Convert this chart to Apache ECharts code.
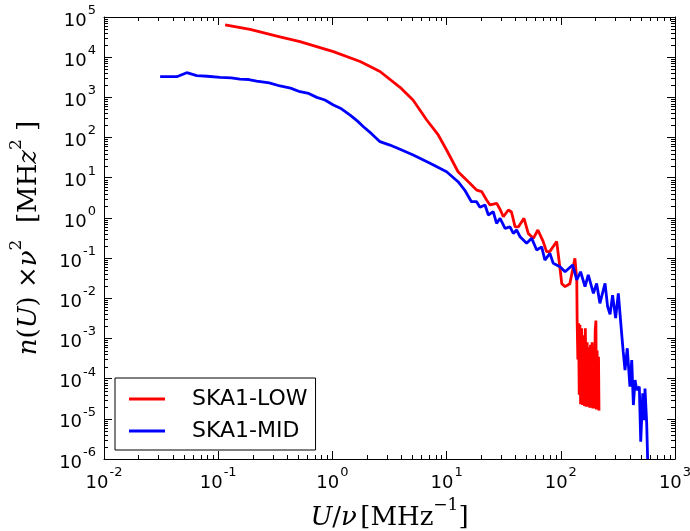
<!DOCTYPE html>
<html><head><meta charset="utf-8">
<script src="https://cdn.jsdelivr.net/npm/echarts@6/dist/echarts.min.js"></script>
<style>html,body{margin:0;padding:0;background:#fff}#c{width:690px;height:531px}</style>
</head><body><div id="c"></div>
<script>
// SKA1-LOW
const lowU = [0.115,0.19,0.347,0.52,1.02,1.75,2.61,3.91,5.08,6.7,8.45,10.0,12.6,15.5,18.4,20.3,22.4,24,27.5,29.5,31.4,34.7,37,39.8,42.6,47.6,51.9,57.5,63,70,75,80,92,98,102,109,120,133,138,
  139,141,143,145,147,149,152,155,158,161,164,167,170,173,176,179,182,185,188,191,194,197,200,203,205,208,211,214,216];
const lowN = [6.4e4,4.9e4,3.2e4,2.43e4,1.37e4,7.8e3,4.4e3,1.78e3,860,273,116,49,14.1,7.9,4.9,4.5,2.8,2.1,2.3,1.6,1.07,1.57,1.4,0.6,0.6,0.98,0.41,0.31,0.5,0.26,0.145,0.145,0.26,0.061,0.023,0.0195,0.023,0.099,0.0285,
  2.9e-3,3e-4,2.4e-3,4e-5,2.2e-3,2.3e-5,1.8e-3,2.2e-5,1.2e-3,2.1e-5,1.8e-3,2e-5,8e-4,2e-5,6e-4,1.9e-5,7e-4,1.9e-5,8e-4,1.8e-5,6e-4,1.8e-5,1.5e-3,2.8e-3,1.7e-5,5e-4,1.7e-5,3.5e-4,1.6e-5];
// SKA1-MID
const midU = [0.031,0.0434,0.053,0.0649,0.08,0.104,0.13,0.155,0.185,0.217,0.28,0.348,0.43,0.52,0.62,0.73,0.86,1.02,1.2,1.43,1.65,1.87,2.2,2.61,3.19,3.91,5.1,7.16,10,12.6,14.4,16.5,18.3,19.6,21.7,23.2,25.6,27.4,29.4,32.5,35.9,38.4,41,44,50.2,55.6,61.5,68,72.5,80.3,85.9,98.4,109,127,138,149,163,174,193,206,220,244,257,270,284,302,319,341,352,365,382,403,418,432,447,462,487,501,522,539,546,565,576];
const midN = [3270,3270,4110,3460,3350,3160,3050,2860,2780,2550,2300,1920,1700,1380,1250,1000,860,646,520,363,260,186,125,79,65,51,36.7,22.9,14.1,7.95,4.94,2.53,2.53,1.84,2.1,1.18,1.43,0.73,0.98,0.55,0.6,0.41,0.5,0.34,0.233,0.31,0.159,0.19,0.0895,0.131,0.074,0.061,0.0457,0.0675,0.0285,0.0457,0.0195,0.038,0.0133,0.0234,7.5e-3,0.0234,6.2e-3,4e-3,0.012,3.2e-3,0.0133,1.34e-3,4.7e-4,1.64e-4,5.7e-4,6.3e-5,2.9e-4,2.2e-5,9.2e-5,5.2e-5,6.3e-5,2.7e-6,4.3e-5,9.3e-6,5.7e-5,7.8e-6,1e-6];
const seriesNames = ['SKA1-LOW','SKA1-MID'];
const xRange = [1e-2, 1e3];
const yRange = [1e-6, 1e5];
const minorMultipliers = [2,3,4,5,6,7,8,9];

const zip = (a,b) => a.map((v,i)=>[v,b[i]]);
const supFmt = v => { const e = Math.round(Math.log10(v)); return '{b|10}{s|' + e + '}'; };
const rich = {
  b:{fontFamily:'DejaVu Sans',fontSize:18,color:'#000',lineHeight:26,verticalAlign:'bottom'},
  s:{fontFamily:'DejaVu Sans',fontSize:13,color:'#000',lineHeight:26,verticalAlign:'top',padding:[0,0,0,1]}
};
const tick = {show:true,inside:true,length:8,interval:0,lineStyle:{color:'#000',width:1}};
const line = {show:true,onZero:false,lineStyle:{color:'#000',width:1}};
const serif = 'DejaVu Serif';
const nameRich = {
  i:{fontFamily:serif,fontStyle:'italic',fontSize:26,color:'#000',lineHeight:34,verticalAlign:'bottom'},
  r:{fontFamily:serif,fontSize:26,color:'#000',lineHeight:34,verticalAlign:'bottom'},
  p:{fontFamily:serif,fontSize:17,color:'#000',lineHeight:34,verticalAlign:'top'}
};
function logAxis(extra, range){
  return Object.assign({type:'log',logBase:10,min:range[0],max:range[1],interval:1,
    axisLine:line,axisTick:tick,minorTick:{show:false},splitLine:{show:false}}, extra);
}

const chart = echarts.init(document.getElementById('c'), null, {renderer:'canvas'});
chart.setOption({
  animation:false,
  backgroundColor:'#fff',
  grid:{left:104,right:15,top:17,bottom:72,containLabel:false,outerBoundsMode:'none'},
  legend:{
    data:seriesNames, orient:'vertical', left:115, top:378,
    padding:[10,8,8,14], itemGap:10, itemWidth:36, itemHeight:3, icon:'rect',
    borderColor:'#000', borderWidth:1, borderRadius:0, backgroundColor:'#fff',
    textStyle:{fontFamily:'DejaVu Sans',fontSize:22,color:'#000',padding:[0,0,0,22]}
  },
  xAxis:[
    logAxis({position:'bottom',axisLabel:{formatter:supFmt,rich:rich,margin:7},
     name:'{i|U}{r|/}{i|ν} {r|[MHz}{p|−1}{r|]}',nameLocation:'middle',nameGap:36,
     nameTextStyle:{rich:nameRich}}, xRange),
    logAxis({position:'top',axisLabel:{show:false}}, xRange)
  ],
  yAxis:[
    logAxis({position:'left',axisLabel:{formatter:supFmt,rich:rich,margin:8},
     name:'{i|n}{r|(}{i|U}{r|) ×}{i|ν}{p|2}{r|  [MH}{i|z}{p|2}{r| ]}',nameLocation:'middle',nameGap:62,nameRotate:90,
     nameTextStyle:{rich:nameRich}}, yRange),
    logAxis({position:'right',axisLabel:{show:false}}, yRange)
  ],
  series:[
    {name:seriesNames[0],type:'line',data:zip(lowU,lowN),showSymbol:false,symbol:'none',clip:true,
     lineStyle:{color:'#ff0000',width:2.8},itemStyle:{color:'#ff0000'},z:2},
    {name:seriesNames[1],type:'line',data:zip(midU,midN),showSymbol:false,symbol:'none',clip:true,
     lineStyle:{color:'#0000ff',width:2.8},itemStyle:{color:'#0000ff'},z:3}
  ]
});

// minor ticks (2..9 within each decade) on all four sides, placed via the axes' own scales
(function(){
  const els = [];
  const x0 = chart.convertToPixel({xAxisIndex:0}, xRange[0]);
  const x1 = chart.convertToPixel({xAxisIndex:0}, xRange[1]);
  const yb = chart.convertToPixel({yAxisIndex:0}, yRange[0]);
  const yt = chart.convertToPixel({yAxisIndex:0}, yRange[1]);
  const L = 4;
  const seg = (a,b,c,d) => els.push({type:'line',shape:{x1:a,y1:b,x2:c,y2:d},
    style:{stroke:'#000',lineWidth:1},silent:true,z:100});
  for (let e = -2; e < 3; e++) {
    minorMultipliers.forEach(k => {
      const px = Math.round(chart.convertToPixel({xAxisIndex:0}, k*Math.pow(10,e))) + 0.5;
      seg(px, yb, px, yb-L);
      seg(px, yt, px, yt+L);
    });
  }
  for (let e = -6; e < 5; e++) {
    minorMultipliers.forEach(k => {
      const py = Math.round(chart.convertToPixel({yAxisIndex:0}, k*Math.pow(10,e))) + 0.5;
      seg(x0, py, x0+L, py);
      seg(x1, py, x1-L, py);
    });
  }
  chart.setOption({graphic:{elements:els}});
})();
</script></body></html>
